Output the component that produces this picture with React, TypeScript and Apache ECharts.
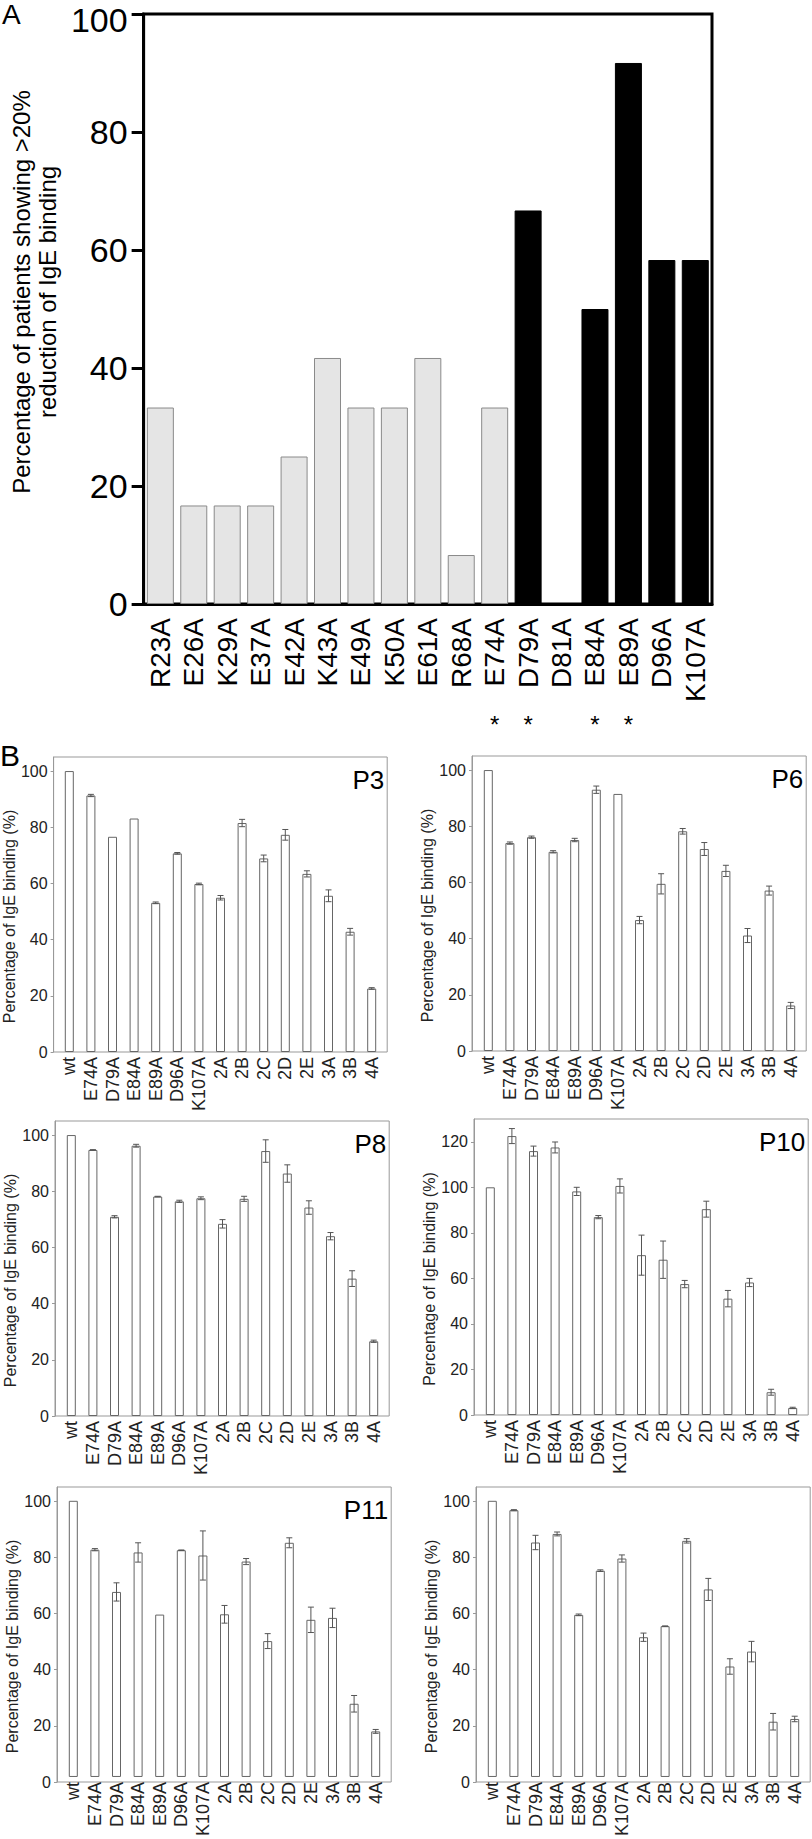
import React, { useEffect, useRef } from 'react';
import * as echarts from 'echarts';

// ---------- Panel A data ----------
const mutantsA = ['R23A', 'E26A', 'K29A', 'E37A', 'E42A', 'K43A', 'E49A', 'K50A', 'E61A', 'R68A', 'E74A', 'D79A', 'D81A', 'E84A', 'E89A', 'D96A', 'K107A'];
const patientPctA = [33.3, 16.7, 16.7, 16.7, 25, 41.7, 33.3, 33.3, 41.7, 8.3, 33.3, 66.7, 0, 50, 91.7, 58.3, 58.3];
const strongA = [0, 0, 0, 0, 0, 0, 0, 0, 0, 0, 0, 1, 1, 1, 1, 1, 1];
const starredA = [0, 0, 0, 0, 0, 0, 0, 0, 0, 0, 1, 1, 0, 1, 1, 0, 0];

// ---------- Panel B data ----------
const mutantsB = ['wt', 'E74A', 'D79A', 'E84A', 'E89A', 'D96A', 'K107A', '2A', '2B', '2C', '2D', '2E', '3A', '3B', '4A'];
const panelNames = ['P3', 'P6', 'P8', 'P10', 'P11', ''];
const panelMax = [105, 105, 105, 130, 105, 105];

const p3Values = [100, 91.3, 76.6, 83.1, 53.1, 70.7, 59.8, 54.9, 81.5, 68.9, 77.3, 63.4, 55.6, 42.8, 22.6];
const p3Errors = [0, 0.4, 0, 0, 0.3, 0.3, 0.3, 0.8, 1.3, 1.2, 1.9, 1.1, 2.1, 1.2, 0.3];
const p6Values = [100, 74.0, 76.1, 70.9, 75.1, 93.0, 91.5, 46.6, 59.5, 78.2, 71.9, 64.1, 41.1, 57.1, 16.2];
const p6Errors = [0, 0.4, 0.4, 0.4, 0.6, 1.3, 0, 1.3, 3.6, 1.0, 2.3, 2.0, 2.5, 1.6, 1.1];
const p8Values = [100, 94.7, 70.9, 96.2, 78.1, 76.4, 77.5, 68.4, 77.3, 94.3, 86.3, 74.2, 64.0, 48.9, 26.6];
const p8Errors = [0, 0.1, 0.4, 0.5, 0.1, 0.4, 0.5, 1.5, 0.9, 4.0, 3.1, 2.4, 1.3, 2.8, 0.4];
const p10Values = [100, 122.5, 115.9, 117.5, 98.2, 86.9, 100.6, 70.2, 68.2, 57.5, 90.4, 51.1, 58.2, 10.0, 3.1];
const p10Errors = [0, 3.3, 2.2, 2.4, 1.8, 0.7, 3.1, 8.8, 8.2, 1.6, 3.5, 3.6, 1.8, 1.3, 0.3];
const p11Values = [100, 82.3, 67.0, 81.3, 58.8, 82.1, 80.2, 58.9, 78.0, 49.2, 84.8, 56.9, 57.6, 26.5, 16.5];
const p11Errors = [0, 0.4, 3.3, 3.5, 0, 0.1, 8.9, 3.2, 1.1, 2.7, 1.8, 4.6, 3.5, 3.0, 0.7];
const p12Values = [100, 96.6, 84.9, 88.0, 58.7, 74.7, 79.1, 50.6, 54.6, 85.5, 67.9, 40.0, 45.4, 20.0, 21.0];
const p12Errors = [0, 0.2, 2.6, 0.7, 0.3, 0.3, 1.3, 1.5, 0.1, 0.8, 4.0, 2.8, 3.7, 3.0, 1.0];

const panelValues = [p3Values, p6Values, p8Values, p10Values, p11Values, p12Values];
const panelErrors = [p3Errors, p6Errors, p8Errors, p10Errors, p11Errors, p12Errors];

// layout of the small panels (box left, box top, box height)
const boxLayout = [
  [53, 757, 295],
  [472, 756, 295],
  [55, 1121, 295],
  [474, 1119, 296],
  [57, 1487, 295],
  [476, 1487, 295],
];

const FONT = 'Liberation Sans, Arial, Helvetica, sans-serif';

function buildOption() {
  const grid: any[] = [];
  const xAxis: any[] = [];
  const yAxis: any[] = [];
  const series: any[] = [];
  const graphic: any[] = [];

  // ---------- Panel A ----------
  grid.push({ left: 122, top: 14, width: 590, height: 590, show: true, borderColor: '#000', borderWidth: 3 });
  xAxis.push({
    gridIndex: 0, type: 'category', data: mutantsA,
    axisLine: { lineStyle: { color: '#000', width: 3 } },
    axisTick: { show: false },
    axisLabel: { rotate: 90, interval: 0, fontSize: 28, color: '#000', margin: 14, fontFamily: FONT },
  });
  xAxis.push({
    gridIndex: 0, type: 'category', data: mutantsA, position: 'bottom', offset: 102,
    axisLine: { show: false }, axisTick: { show: false },
    axisLabel: { interval: 0, fontSize: 24, color: '#000', margin: 6, fontFamily: FONT,
      formatter: (_v: string, i: number) => (starredA[i] ? '*' : '') },
  });
  yAxis.push({
    gridIndex: 0, type: 'value', min: 0, max: 100, interval: 20,
    axisLine: { show: true, lineStyle: { color: '#000', width: 3 } },
    axisTick: { show: true, length: 12, lineStyle: { color: '#000', width: 3 } },
    axisLabel: {
      fontSize: 34, color: '#000', margin: 16, fontFamily: FONT,
      formatter: (v: number) => (v === 100 ? `{top|${v}}` : `${v}`),
      rich: { top: { fontSize: 34, color: '#000', fontFamily: FONT, padding: [12, 0, 0, 0] } },
    },
    splitLine: { show: false },
    name: 'Percentage of patients showing >20%\nreduction of IgE binding',
    nameLocation: 'middle', nameGap: 74,
    nameTextStyle: { fontSize: 24, color: '#000', lineHeight: 26, fontFamily: FONT, padding: [0, 0, 0, 34] },
  });
  series.push({
    type: 'bar', xAxisIndex: 0, yAxisIndex: 0, barWidth: 27,
    data: patientPctA.map((v, i) => ({
      value: v,
      itemStyle: strongA[i]
        ? { color: '#000', borderColor: '#000', borderWidth: 1 }
        : { color: '#e5e5e5', borderColor: '#8a8a8a', borderWidth: 1 },
    })),
  });
  graphic.push({ type: 'text', left: 2, top: 0, style: { text: 'A', fontSize: 28, fill: '#000', fontFamily: FONT } });
  graphic.push({ type: 'text', left: 0, top: 740, style: { text: 'B', fontSize: 30, fill: '#000', fontFamily: FONT } });

  // ---------- Panel B ----------
  const catW = 21.6;
  panelValues.forEach((vals, k) => {
    const [bl, bt, bh] = boxLayout[k];
    const boxW = 16.3 + 14 * catW + 15.5;
    const max = panelMax[k];
    const errs = panelErrors[k];

    const boxIdx = grid.length;
    grid.push({ left: bl, top: bt, width: boxW, height: bh, show: true, borderColor: '#999', borderWidth: 1 });
    xAxis.push({ gridIndex: boxIdx, type: 'value', show: false, min: 0, max: 1 });
    yAxis.push({
      gridIndex: boxIdx, type: 'value', min: 0, max, interval: 20,
      axisLine: { show: true, lineStyle: { color: '#999', width: 1 } },
      axisTick: { show: true, length: 3, lineStyle: { color: '#999' } },
      axisLabel: { fontSize: 16, color: '#222', margin: 6, fontFamily: FONT,
        showMaxLabel: max % 20 === 0 },
      splitLine: { show: false },
      name: 'Percentage of IgE binding (%)', nameLocation: 'middle', nameGap: 35,
      nameTextStyle: { fontSize: 16, color: '#222', fontFamily: FONT, padding: [0, 24, 0, 0] },
    });

    const dataIdx = grid.length;
    const xIdx = xAxis.length;
    const yIdx = yAxis.length;
    grid.push({ left: bl + 16.3 - catW / 2, top: bt, width: catW * 15, height: bh });
    xAxis.push({
      gridIndex: dataIdx, type: 'category', data: mutantsB,
      axisLine: { show: false }, axisTick: { show: false },
      axisLabel: { rotate: 90, interval: 0, fontSize: 18, color: '#222', margin: 5, fontFamily: FONT },
    });
    yAxis.push({ gridIndex: dataIdx, type: 'value', min: 0, max, show: false });

    series.push({
      type: 'bar', xAxisIndex: xIdx, yAxisIndex: yIdx, barWidth: 9,
      itemStyle: { color: '#fff', borderColor: '#666', borderWidth: 1 },
      data: vals,
    });
    series.push({
      type: 'custom', xAxisIndex: xIdx, yAxisIndex: yIdx, z: 5,
      encode: { x: 0, y: [1, 2] },
      data: vals.map((v, i) => [i, v - errs[i], v + errs[i]]).filter((_d, i) => errs[i] > 0),
      renderItem: (_params: any, api: any) => {
        const lo = api.coord([api.value(0), api.value(1)]);
        const hi = api.coord([api.value(0), api.value(2)]);
        const cx = lo[0];
        const style = { stroke: '#555', lineWidth: 1 };
        return {
          type: 'group',
          children: [
            { type: 'line', shape: { x1: cx, y1: lo[1], x2: cx, y2: hi[1] }, style },
            { type: 'line', shape: { x1: cx - 3, y1: lo[1], x2: cx + 3, y2: lo[1] }, style },
            { type: 'line', shape: { x1: cx - 3, y1: hi[1], x2: cx + 3, y2: hi[1] }, style },
          ],
        };
      },
    });

    if (panelNames[k]) {
      graphic.push({
        type: 'text', right: 812 - (bl + boxW - 3), top: bt + 10,
        style: { text: panelNames[k], fontSize: 26, fill: '#000', fontFamily: FONT },
      });
    }
  });

  return {
    animation: false,
    backgroundColor: '#fff',
    textStyle: { fontFamily: FONT },
    grid, xAxis, yAxis, series, graphic,
  };
}

export default function App() {
  const ref = useRef<HTMLDivElement>(null);
  useEffect(() => {
    if (!ref.current) return;
    const chart = echarts.init(ref.current, undefined, { renderer: 'svg' });
    chart.setOption(buildOption() as any);
    return () => chart.dispose();
  }, []);
  return <div ref={ref} style={{ position: 'absolute', left: 0, top: 0, width: 812, height: 1839, background: '#fff' }} />;
}
